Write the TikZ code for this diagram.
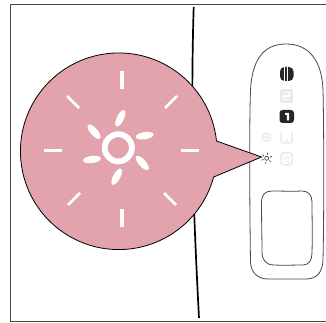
\documentclass[tikz,border=0pt]{standalone}
\usetikzlibrary{calc}
\definecolor{bub}{RGB}{226,163,173}
\definecolor{pale}{RGB}{238,234,225}
\definecolor{dk}{RGB}{38,38,38}
\tikzset{px/.style={x=1pt,y=-1pt},
 frame/.style={draw=black!72,line width=1.1pt},
 outl/.style={draw=black!72,line width=0.8pt},
 ray/.style={draw=white,line width=3.4pt},
 dray/.style={draw=white,line width=2.7pt},
 paleic/.style={draw=pale,line width=1.5pt,fill=white}}
\begin{document}
\begin{tikzpicture}[px]
\useasboundingbox (0,0) rectangle (326,323);
\fill[white] (0,0) rectangle (326,323);
% frame
\draw[frame] (326,4.7) -- (10.5,4.7) -- (10.5,321.8) -- (326,321.8);
% curve
\draw[black,line width=1.7pt] (193.7,7) .. controls (192,60) and (192,120) .. (193,170) .. controls (194,220) and (197,280) .. (199,318);
% panel
\draw[outl] (286,44) .. controls (262,44) and (252,62) .. (250.5,90) .. controls (249,130) and (250,230) .. (250.5,262) .. controls (251,272) and (257,279) .. (268,279) -- (306,279) .. controls (317,279) and (322.5,272) .. (323,260) .. controls (324,220) and (324,130) .. (323,90) .. controls (322,62) and (310,44) .. (286,44) -- cycle;
\draw[outl] (272,191) .. controls (265,191) and (261.5,195) .. (261.5,202) .. controls (261.5,220) and (262,240) .. (262,252) .. controls (262,260) and (266,265) .. (274,265) .. controls (285,265.5) and (295,265) .. (303,265) .. controls (309,265) and (312,260) .. (312,253) .. controls (312.5,235) and (312,215) .. (312,202) .. controls (312,195) and (308,191) .. (302,191) .. controls (292,191.5) and (282,191) .. (272,191) -- cycle;
% bubble
\draw[fill=bub,draw=black,line width=0.8pt] (216.5,141) arc[start angle=6,end angle=344.8,radius=98.3pt] -- (261.5,157) -- cycle;
% white rays
\draw[ray] (122,71) -- (122,89);
\draw[ray] (122,209) -- (122,227);
\draw[ray] (44,150.3) -- (62,150.3);
\draw[ray] (181,150.3) -- (199,150.3);
\draw[dray] (67,96) -- (79,108);
\draw[dray] (177,96) -- (165,108);
\draw[dray] (68,205) -- (80,193);
\draw[dray] (176,205) -- (164,193);
% sun
\draw[white,line width=5.8pt] (118.3,147.8) circle[radius=13.6pt];
\foreach \x/\y/\a in {120.3/118.3/64, 94/131.7/-49, 144.7/135.7/9, 92/159.5/7, 142.3/163/-48, 116.7/176.7/62}
  \fill[white,rotate around={\a:(\x,\y)}] (\x,\y) ellipse[x radius=9pt,y radius=3.6pt];
% small sun icon
\draw[black!80,line width=0.6pt] (266.7,158.3) circle[radius=2pt];
\foreach \a in {20,80,140,200,260,320}
  \draw[black!80,line width=0.6pt] ($(266.7,158.3)+(\a:3.4pt)$) -- ($(266.7,158.3)+(\a:5.6pt)$);
% black icons
\fill[dk,rounded corners=4.5pt] (280,67) rectangle (293.5,81);
\draw[white,line width=0.8pt] (284,67) -- (284,81) (287.8,67) -- (287.8,81);
\fill[dk,rounded corners=3pt] (279.5,110) rectangle (294,123);
\fill[white] (285,113) -- (289,113) -- (289,120.5) -- (286.8,120.5) -- (286.8,115) -- (285,115) -- cycle;
% pale icons
\fill[pale,rounded corners=2pt] (280,89) rectangle (293,103);
\draw[white,line width=1.2pt] (283.5,92.5) -- (289.5,92.5) -- (289.5,96) -- (283.5,96) -- (283.5,99.5) -- (289.5,99.5);
\draw[pale,line width=1.4pt] (266.7,137.3) circle[radius=4.3pt];
\draw[pale,line width=1.2pt] (266.7,137.3) circle[radius=1.7pt];
\draw[paleic,rounded corners=1.5pt] (281,131.5) -- (281,143) -- (292,143) -- (292,131.5);
\draw[pale,line width=0.8pt] (285,140) -- (288,140);
\draw[paleic,rounded corners=1.5pt] (281,153) rectangle (292,164.5);
\draw[pale,line width=0.9pt] (283.5,156) -- (289.5,156) (283.5,158.7) -- (289.5,158.7) (283.5,161.4) -- (289.5,161.4);
\end{tikzpicture}
\end{document}
